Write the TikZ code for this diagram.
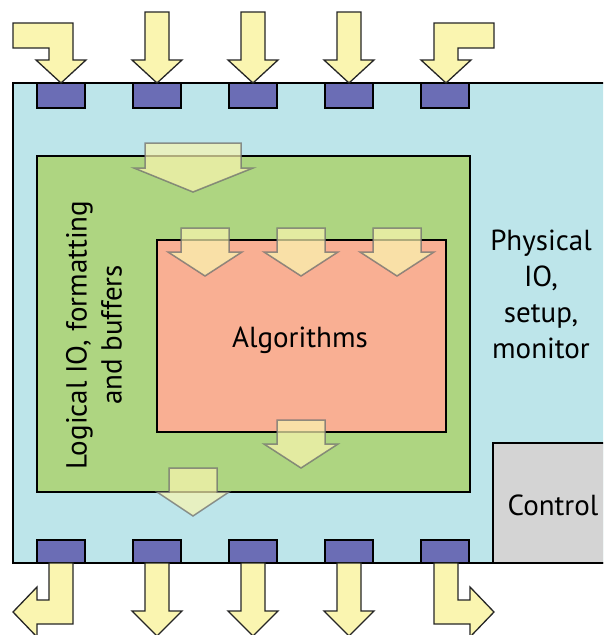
\documentclass[tikz,border=0pt]{standalone}
\usepackage{fontspec}
\setmainfont{PT Sans}
\definecolor{cyanbg}{HTML}{BDE5EA}
\definecolor{greenbg}{HTML}{AED581}
\definecolor{salmonbg}{HTML}{F9AF93}
\definecolor{padcol}{HTML}{6B6DB5}
\definecolor{arrowyel}{HTML}{FAF5B0}
\definecolor{graybg}{HTML}{D4D4D4}
\definecolor{ghostline}{HTML}{6E6E6E}
\begin{document}
\begin{tikzpicture}[x=1pt,y=-1pt,
  box/.style={draw=black,line width=1.3pt},
  pad/.style={draw=black,line width=1.3pt,fill=padcol},
  ioarrow/.style={draw=black!85,line width=1.3pt,fill=arrowyel,line join=miter},
  ghost/.style={draw=ghostline,draw opacity=0.75,line width=1.5pt,fill=arrowyel,fill opacity=0.7,line join=miter},
  lbl/.style={font=\fontsize{29}{35}\selectfont,align=center,inner sep=0pt}]
\clip (0,0) rectangle (603,635);
\fill[white] (0,0) rectangle (603,635);
% boxes
\draw[box,fill=cyanbg] (13,83) rectangle (640,563);
\draw[box,fill=graybg] (493,443) rectangle (640,563);
\draw[box,fill=greenbg] (37,156) rectangle (470,492);
\draw[box,fill=salmonbg] (157,240) rectangle (446,432);
% pads
\foreach \c in {61,157,253,349,445}{
  \draw[pad] (\c-24,83) rectangle (\c+24,108);
  \draw[pad] (\c-24,540) rectangle (\c+24,563);
}
% top arrows
\draw[ioarrow] (13,23) -- (73,23) -- (73,60) -- (86,60) -- (61,83) -- (36,60) -- (49,60) -- (49,48) -- (13,48) -- cycle;
\draw[ioarrow] (494,23) -- (434,23) -- (434,60) -- (421,60) -- (446,83) -- (471,60) -- (458,60) -- (458,48) -- (494,48) -- cycle;
\foreach \c in {157,253,349}{
  \draw[ioarrow] (\c-12,12) -- (\c+12,12) -- (\c+12,60) -- (\c+25,60) -- (\c,83) -- (\c-25,60) -- (\c-12,60) -- cycle;
  \draw[ioarrow] (\c-12,563) -- (\c+12,563) -- (\c+12,611) -- (\c+25,611) -- (\c,636) -- (\c-25,611) -- (\c-12,611) -- cycle;
}
% bottom bent arrows
\draw[ioarrow] (49,563) -- (73,563) -- (73,624) -- (37,624) -- (37,637) -- (13,612) -- (37,587) -- (37,600) -- (49,600) -- cycle;
\draw[ioarrow] (434,563) -- (458,563) -- (458,600) -- (470,600) -- (470,587) -- (494,612) -- (470,637) -- (470,624) -- (434,624) -- cycle;
% translucent internal arrows
\draw[ghost] (145,143) -- (241,143) -- (241,168) -- (253,168) -- (193,192) -- (134,168) -- (145,168) -- cycle;
\foreach \c in {205,301,397}{
  \draw[ghost] (\c-24,228) -- (\c+24,228) -- (\c+24,252) -- (\c+37,252) -- (\c,276) -- (\c-37,252) -- (\c-24,252) -- cycle;
}
\draw[ghost] (277,420) -- (325,420) -- (325,444) -- (338,444) -- (301,468) -- (264,444) -- (277,444) -- cycle;
\draw[ghost] (169,468) -- (217,468) -- (217,492) -- (229,492) -- (193,516) -- (157,492) -- (169,492) -- cycle;
% labels
\node[lbl,anchor=base] (alg) at (300,347) {Algorithms};
\node[lbl,anchor=base] (ctl) at (553,515) {Control};
\node[lbl,anchor=base,font=\fontsize{29}{36}\selectfont] (phys) at (541,358) {Physical\\IO,\\setup,\\monitor};
\node[lbl,rotate=90] (logic) at (94,335) {Logical IO, formatting\\and buffers};
\end{tikzpicture}
\end{document}
